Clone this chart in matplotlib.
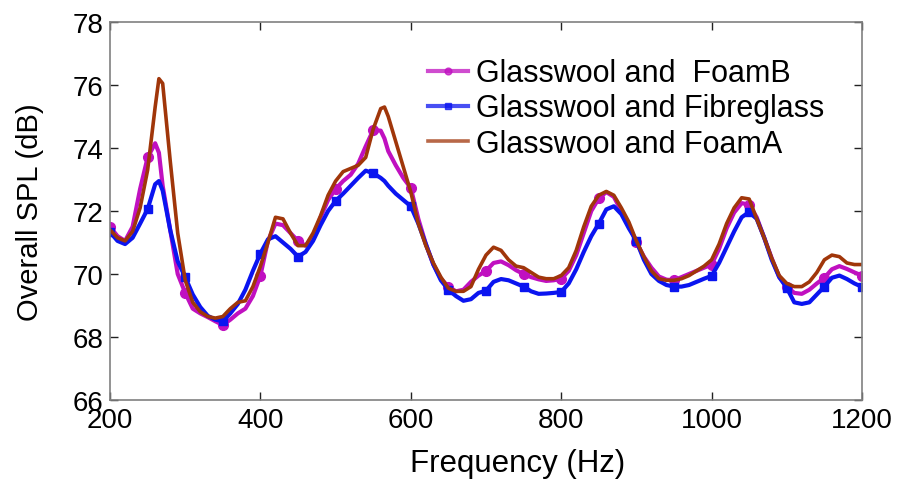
import matplotlib
matplotlib.use("Agg")
import matplotlib.pyplot as plt
import numpy as np

plt.rcParams['font.family'] = ['Liberation Sans', 'DejaVu Sans']

freq = [200, 210, 220, 230, 240, 250, 260, 265, 270, 280, 290, 300, 310, 320, 330, 340, 350, 360, 370, 380,
        390, 400, 410, 420, 430, 440, 450, 460, 470, 480, 490, 500, 510, 520, 530, 540, 550, 560, 565, 570,
        580, 590, 600, 610, 620, 630, 640, 650, 660, 670, 680, 690, 700, 710, 720, 730, 740, 750, 760, 770,
        780, 790, 800, 810, 820, 830, 840, 850, 860, 870, 880, 890, 900, 910, 920, 930, 940, 950, 960, 970,
        980, 990, 1000, 1010, 1020, 1030, 1040, 1050, 1060, 1070, 1080, 1090, 1100, 1110, 1120, 1130, 1140,
        1150, 1160, 1170, 1180, 1190, 1200]

foamB = [71.5, 71.2, 71.05, 71.5, 72.7, 73.7, 74.15, 73.85, 72.8, 71.4, 70.0, 69.4, 68.9, 68.75, 68.63, 68.5, 68.38, 68.55, 68.75, 68.9,
         69.3, 69.95, 71.05, 71.6, 71.55, 71.3, 71.05, 70.9, 71.15, 71.8, 72.35, 72.7, 72.95, 73.15, 73.5, 74.05, 74.57, 74.55, 74.3, 73.9,
         73.45, 73.05, 72.73, 71.75, 70.95, 70.3, 69.85, 69.6, 69.45, 69.5, 69.75, 69.95, 70.1, 70.35, 70.4, 70.28, 70.12, 70.0, 69.9, 69.83,
         69.78, 69.8, 69.85, 70.1, 70.6, 71.3, 72.0, 72.4, 72.6, 72.45, 72.0, 71.55, 71.0, 70.55, 70.2, 69.92, 69.82, 69.8, 69.9, 70.0,
         70.1, 70.2, 70.3, 70.8, 71.45, 71.95, 72.25, 72.2, 71.8, 71.15, 70.5, 69.9, 69.6, 69.4, 69.37, 69.5, 69.7,
         69.88, 70.15, 70.25, 70.16, 70.05, 69.95]

fibreglass = [71.33, 71.05, 70.95, 71.15, 71.6, 72.06, 72.85, 72.95, 72.65, 71.4, 70.4, 69.9, 69.35, 68.95, 68.67, 68.55, 68.5, 68.75, 69.05, 69.5,
              70.1, 70.65, 71.1, 71.2, 71.0, 70.8, 70.55, 70.7, 71.05, 71.55, 72.0, 72.32, 72.55, 72.8, 73.05, 73.28, 73.2, 73.05, 72.95, 72.8,
              72.55, 72.35, 72.15, 71.6, 70.95, 70.3, 69.8, 69.5, 69.3, 69.15, 69.2, 69.4, 69.47, 69.75, 69.84, 69.8, 69.7, 69.6, 69.45, 69.37,
              69.38, 69.4, 69.43, 69.7, 70.15, 70.7, 71.2, 71.6, 72.05, 72.15, 71.9, 71.45, 71.05, 70.45, 70.0, 69.78, 69.65, 69.6, 69.6, 69.65,
              69.75, 69.85, 69.94, 70.35, 70.85, 71.35, 71.8, 71.97, 71.75, 71.15, 70.45, 69.9, 69.56, 69.1, 69.05, 69.1, 69.35,
              69.6, 69.88, 69.95, 69.84, 69.7, 69.59]

foamA = [71.4, 71.15, 71.05, 71.35, 72.1, 73.3, 75.3, 76.2, 76.05, 73.6, 71.3, 69.8, 69.1, 68.8, 68.65, 68.6, 68.65, 68.9, 69.1, 69.15,
         69.6, 70.25, 71.0, 71.8, 71.75, 71.3, 70.9, 70.9, 71.3, 71.85, 72.5, 72.95, 73.25, 73.35, 73.45, 73.7, 74.6, 75.25, 75.3, 75.0,
         74.2, 73.4, 72.6, 71.6, 70.9, 70.35, 69.9, 69.55, 69.45, 69.45, 69.6, 70.15, 70.6, 70.85, 70.75, 70.45, 70.25, 70.2, 70.05, 69.9,
         69.85, 69.85, 69.95, 70.2, 70.75, 71.5, 72.15, 72.5, 72.62, 72.5, 72.1, 71.65, 71.05, 70.55, 70.1, 69.85, 69.8, 69.8, 69.85, 69.95,
         70.1, 70.25, 70.45, 70.95, 71.6, 72.1, 72.42, 72.38, 71.75, 71.15, 70.5, 69.95, 69.7, 69.6, 69.6, 69.75, 70.05,
         70.45, 70.6, 70.55, 70.35, 70.3, 70.3]

labels = ['Glasswool and  FoamB', 'Glasswool and Fibreglass', 'Glasswool and FoamA']
xticks = [200, 400, 600, 800, 1000, 1200]
yticks = [66, 68, 70, 72, 74, 76, 78]

mark_idx = [i for i, f in enumerate(freq) if f % 50 == 0]

fig = plt.figure(figsize=(8.99, 4.85), dpi=100)
ax = fig.add_axes([0.1224, 0.1732, 0.8364, 0.7794])

ax.plot(freq, foamB, color='#C010C0', lw=3, marker='o', ms=7, markevery=mark_idx, label=labels[0])
ax.plot(freq, fibreglass, color='#0A14F0', lw=3, marker='s', ms=6, markevery=mark_idx, label=labels[1])
ax.plot(freq, foamA, color='#A0360A', lw=2.6, label=labels[2])

ax.set_xlim(200, 1200)
ax.set_ylim(66, 78)
ax.set_xticks(xticks)
ax.set_yticks(yticks)
ax.tick_params(direction='in', length=6, width=1, labelsize=20, top=True, right=True, pad=5, color='#222222')
for s in ax.spines.values():
    s.set_color('#808080')
    s.set_linewidth(1.2)
ax.set_xlabel('Frequency (Hz)', fontsize=22.5)
ax.xaxis.set_label_coords(0.5426, -0.127)
ax.set_ylabel('Overall SPL (dB)', fontsize=21, labelpad=20)

leg = ax.legend(loc='upper left', bbox_to_anchor=(0.423, 0.904), frameon=False, fontsize=22,
                handlelength=1.3, handletextpad=0.26, labelspacing=0.17, borderpad=0, borderaxespad=0,
                markerscale=0.7)
for h in leg.legend_handles:
    h.set_alpha(0.75)

fig.savefig('out.png', dpi=100)
